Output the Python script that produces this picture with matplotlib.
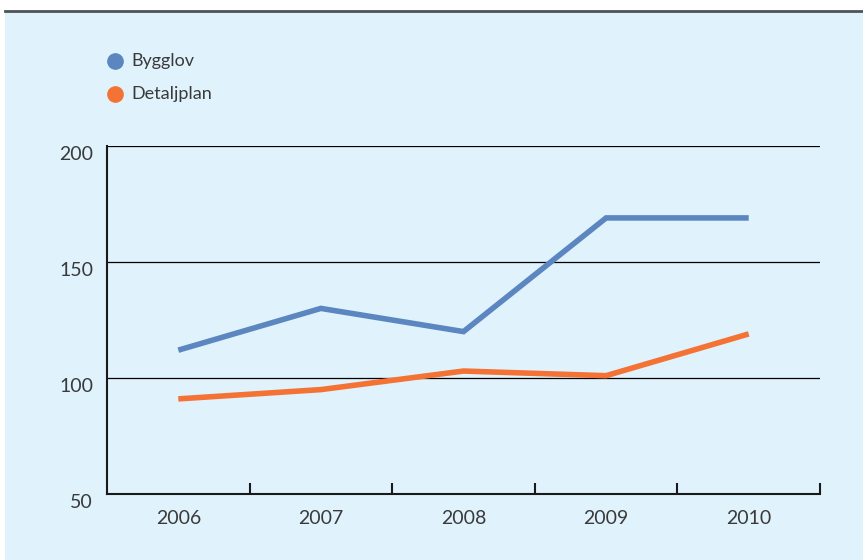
import matplotlib
matplotlib.use('Agg')
from matplotlib import pyplot as plt
from matplotlib.patches import Rectangle

plt.rcParams['font.family'] = ['Lato', 'DejaVu Sans']

years = ['2006', '2007', '2008', '2009', '2010']
bygglov = [112, 130, 120, 169, 169]
detaljplan = [91, 95, 103, 101, 119]

blue = '#5b86bf'
orange = '#f47234'
bg = '#e0f2fc'
txt = '#3a3a3a'

fig = plt.figure(figsize=(8.63, 5.6), dpi=100)
fig.patch.set_facecolor('white')

# Background panel and top rule, on a full-figure axes behind everything
bgax = fig.add_axes([0, 0, 1, 1])
bgax.set_axis_off()
bgax.set_xlim(0, 863)
bgax.set_ylim(560, 0)
bgax.add_patch(Rectangle((5, 11), 863, 560, facecolor=bg, edgecolor='none'))
bgax.plot([5, 863], [10.5, 10.5], color='#4d5358', lw=2)

ax = fig.add_axes([107 / 863, 66 / 560, 713 / 863, 348 / 560])
ax.set_facecolor('none')
ax.set_zorder(2)

x = range(len(years))
ax.plot(x, bygglov, color=blue, lw=4, solid_capstyle='butt', solid_joinstyle='miter', zorder=3)
ax.plot(x, detaljplan, color=orange, lw=4, solid_capstyle='butt', solid_joinstyle='miter', zorder=3)

ax.set_xlim(-0.5, len(years) - 0.5)
ax.set_ylim(50, 200)

# Gridlines
for v in [100, 150, 200]:
    ax.axhline(v, color='black', lw=0.9, zorder=1)

for s in ['top', 'right']:
    ax.spines[s].set_visible(False)
for s in ['left', 'bottom']:
    ax.spines[s].set_linewidth(1.5)
    ax.spines[s].set_color('#1a1a1a')

ax.set_yticks([50, 100, 150, 200])
ax.set_yticklabels(['50', '100', '150', '200'], fontsize=14, color=txt, va='top')
ax.tick_params(axis='y', length=0, pad=10)

ax.set_xticks([i + 0.5 for i in range(len(years))])
ax.set_xticklabels([])
ax.tick_params(axis='x', direction='in', length=8, width=1.5, color='#1a1a1a')
for i, yr in enumerate(years):
    ax.text(i, -0.07, yr, transform=ax.get_xaxis_transform(), ha='center', va='center',
            fontsize=14, color=txt)

# Legend
for yy, lbl, c in [(61, 'Bygglov', blue), (94, 'Detaljplan', orange)]:
    bgax.plot([115], [yy], marker='o', markersize=11, color=c, lw=0)
    bgax.text(131, yy, lbl, fontsize=13, color=txt, va='center', ha='left')

fig.savefig('out.png', dpi=100, facecolor=fig.get_facecolor())
